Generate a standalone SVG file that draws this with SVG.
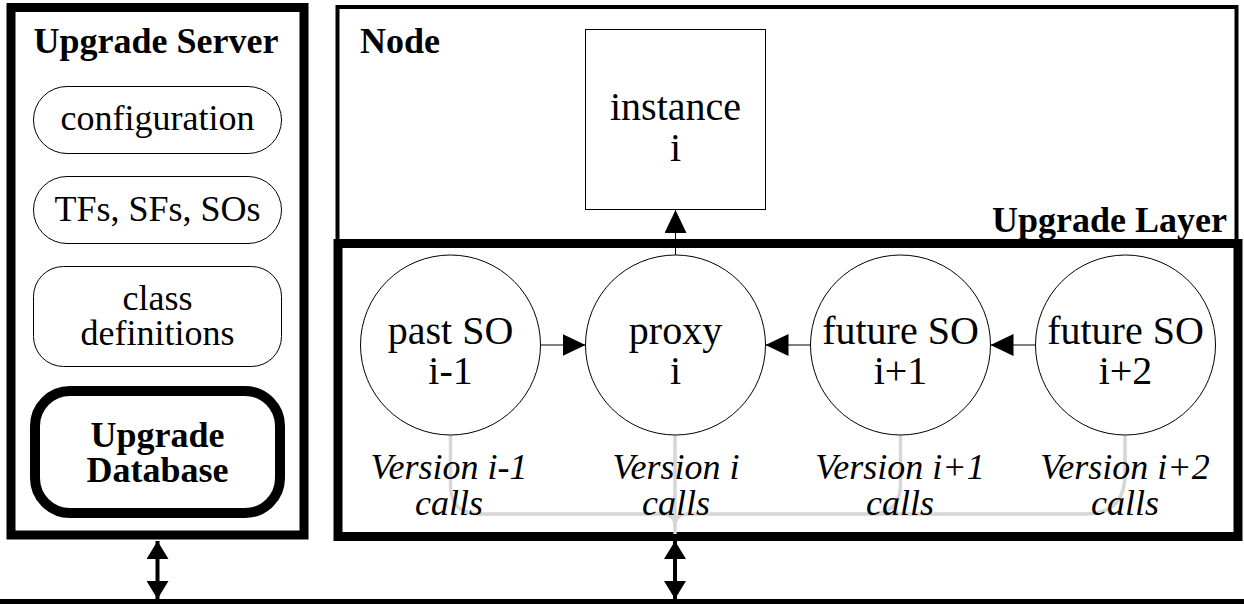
<svg xmlns="http://www.w3.org/2000/svg" width="1244" height="604" viewBox="0 0 1244 604" font-family="'Liberation Serif', 'DejaVu Serif', serif">
  <style>
    text { font-family: "Liberation Serif", "DejaVu Serif", serif; fill: #000; text-anchor: middle; }
    .title { font-size: 36px; font-weight: bold; }
    .lbl { font-size: 36px; }
    .big { font-size: 40px; }
    .ver { font-size: 36px; font-style: italic; }
    .pill { fill: #fff; stroke: #000; stroke-width: 1; }
    .so { fill: #fff; stroke: #000; stroke-width: 1; }
    .thin { stroke: #000; stroke-width: 1; fill: none; marker-end: url(#head); }
    .bus { stroke: #000; stroke-width: 4; fill: none; marker-start: url(#bhead); marker-end: url(#bhead); }
    .calls { stroke: #d6d6d6; stroke-width: 3.5; fill: none; }
  </style>
  <defs>
    <marker id="head" markerUnits="userSpaceOnUse" viewBox="0 0 23 22" markerWidth="23" markerHeight="22" refX="23" refY="11" orient="auto">
      <path d="M0,0 L23,11 L0,22 z" fill="#000"/>
    </marker>
    <marker id="bhead" markerUnits="userSpaceOnUse" viewBox="0 0 18 22" markerWidth="18" markerHeight="22" refX="18" refY="11" orient="auto-start-reverse">
      <path d="M0,0 L18,11 L0,22 z" fill="#000"/>
    </marker>
  </defs>

  <rect width="1244" height="604" fill="#fff"/>

  <!-- Upgrade Server -->
  <g id="upgrade-server">
    <rect x="11" y="7.5" width="293" height="527.5" fill="#fff" stroke="#000" stroke-width="9"/>
    <text class="title" x="156" y="53">Upgrade Server</text>
  </g>
  <g id="configuration">
    <rect class="pill" x="33.5" y="86.5" width="248" height="67" rx="33.5"/>
    <text class="lbl" x="157.5" y="130">configuration</text>
  </g>
  <g id="tfs-sfs-sos">
    <rect class="pill" x="33.5" y="176.5" width="248" height="67" rx="33.5"/>
    <text class="lbl" x="157.5" y="221">TFs, SFs, SOs</text>
  </g>
  <g id="class-definitions">
    <rect class="pill" x="33.5" y="266.5" width="248" height="100" rx="30"/>
    <text class="lbl" x="157.5" y="310">class</text>
    <text class="lbl" x="157.5" y="345">definitions</text>
  </g>
  <g id="upgrade-database">
    <rect x="35" y="391" width="245" height="122" rx="35" fill="#fff" stroke="#000" stroke-width="10"/>
    <text class="title" x="157.5" y="447">Upgrade</text>
    <text class="title" x="157.5" y="482">Database</text>
  </g>

  <!-- Node and Upgrade Layer -->
  <g id="node">
    <rect x="337.5" y="7" width="899" height="236.5" fill="#fff" stroke="#000" stroke-width="4"/>
    <text class="title" x="360" y="53" style="text-anchor:start">Node</text>
  </g>
  <g id="instance">
    <rect x="585.5" y="29.5" width="180" height="180" fill="#fff" stroke="#000" stroke-width="1"/>
    <text class="big" x="675.5" y="120">instance</text>
    <text class="big" x="675.5" y="161">i</text>
  </g>
  <g id="upgrade-layer">
    <rect x="338" y="243.5" width="900" height="293" fill="#fff" stroke="#000" stroke-width="9"/>
    <text class="title" x="1227" y="232" style="text-anchor:end">Upgrade Layer</text>
  </g>

  <!-- call routing lines -->
  <g id="call-lines">
    <path class="calls" d="M450.5,435 V485 Q450.5,514 479.5,514 H663 Q675,514 675,526"/>
    <path class="calls" d="M1125,435 V474 Q1125,514 1085,514 H687 Q675,514 675,526"/>
    <path class="calls" d="M900.5,435 V484 Q900.5,514 870,514"/>
    <path class="calls" d="M675,435 V534"/>
  </g>

  <g id="past-so">
    <circle class="so" cx="450.5" cy="345" r="90"/>
    <text class="big" x="450.5" y="344">past SO</text>
    <text class="big" x="450.5" y="384">i-1</text>
    <text class="ver" x="449" y="479">Version i-1</text>
    <text class="ver" x="449" y="515">calls</text>
  </g>
  <g id="proxy">
    <circle class="so" cx="675.5" cy="345" r="90"/>
    <text class="big" x="675.5" y="344">proxy</text>
    <text class="big" x="675.5" y="384">i</text>
    <text class="ver" x="676" y="479">Version i</text>
    <text class="ver" x="676" y="515">calls</text>
  </g>
  <g id="future-so-1">
    <circle class="so" cx="900.5" cy="345" r="90"/>
    <text class="big" x="900.5" y="344">future SO</text>
    <text class="big" x="900.5" y="384">i+1</text>
    <text class="ver" x="900" y="479">Version i+1</text>
    <text class="ver" x="900" y="515">calls</text>
  </g>
  <g id="future-so-2">
    <circle class="so" cx="1125.5" cy="345" r="90"/>
    <text class="big" x="1125.5" y="344">future SO</text>
    <text class="big" x="1125.5" y="384">i+2</text>
    <text class="ver" x="1125" y="479">Version i+2</text>
    <text class="ver" x="1125" y="515">calls</text>
  </g>

  <!-- connectors -->
  <g id="connectors">
    <line class="thin" x1="675.5" y1="255" x2="675.5" y2="210"/>
    <line class="thin" x1="540.5" y1="345" x2="585.5" y2="345"/>
    <line class="thin" x1="810.5" y1="345" x2="765.5" y2="345"/>
    <line class="thin" x1="1035.5" y1="345" x2="990.5" y2="345"/>
    <line class="bus" x1="157.5" y1="541" x2="157.5" y2="599"/>
    <line class="bus" x1="675" y1="541" x2="675" y2="599"/>
    <line x1="0" y1="601.5" x2="1244" y2="601.5" stroke="#000" stroke-width="5"/>
  </g>
</svg>
